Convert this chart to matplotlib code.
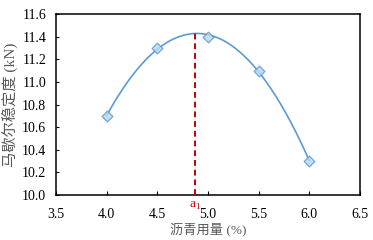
import matplotlib
matplotlib.use('Agg')
import matplotlib.pyplot as plt
import numpy as np

# data
asphalt_content = [4.0, 4.5, 5.0, 5.5, 6.0]
stability_kn = [10.7, 11.3, 11.4, 11.1, 10.3]
optimum_a1 = 4.87

plt.rcParams['font.family'] = ['Liberation Serif', 'Noto Sans CJK SC']
plt.rcParams['font.size'] = 10

fig = plt.figure(figsize=(3.73, 2.40), dpi=100)
ax = fig.add_axes([56 / 373, 1 - 195 / 240, (360 - 56) / 373, (195 - 14) / 240])

# trend curve fitted through the points
coef = np.polyfit(asphalt_content, stability_kn, 3)
xs = np.linspace(4.0, 6.0, 200)
ax.plot(xs, np.polyval(coef, xs), color='#5b9bd5', linewidth=1.2, zorder=2)
ax.scatter(asphalt_content, stability_kn, marker='D', s=30, facecolor='#bdd7ee',
           edgecolor='#5b9bd5', linewidth=0.9, alpha=0.85, zorder=3)

ytop = np.polyval(coef, optimum_a1)
ax.plot([optimum_a1, optimum_a1], [10.0, ytop], color='#c00000', linestyle='--',
        linewidth=1.4, dashes=(3, 2), zorder=4)
ax.text(optimum_a1, 9.955, 'a$_\\mathregular{1}$', color='#d00000', ha='center',
        va='top', fontsize=9.5)

ax.set_xlim(3.5, 6.5)
ax.set_ylim(10.0, 11.6)
ax.set_xticks(np.arange(3.5, 6.51, 0.5))
ax.set_yticks(np.arange(10.0, 11.61, 0.2))
ax.set_xticklabels([f'{v:.1f}' for v in np.arange(3.5, 6.51, 0.5)])
ax.set_yticklabels([f'{v:.1f}' for v in np.arange(10.0, 11.61, 0.2)])
ax.tick_params(axis='x', direction='in', length=3, pad=9)
ax.tick_params(axis='y', direction='in', length=2, pad=7)
for sp in ax.spines.values():
    sp.set_linewidth(1.1)

ax.set_xlabel('沥青用量 (%)', color='#595959', fontsize=9.5, labelpad=2)
ax.set_ylabel('马歇尔稳定度 (kN)', color='#595959', fontsize=11, labelpad=3)

fig.savefig('out.png', dpi=100)
